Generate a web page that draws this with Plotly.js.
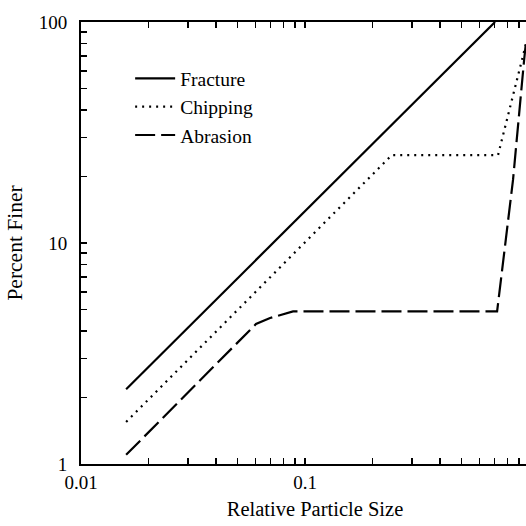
<!DOCTYPE html>
<html>
<head>
<meta charset="utf-8">
<script src="https://cdn.plot.ly/plotly-3.0.1.min.js"></script>
<style>
  html, body { margin: 0; padding: 0; background: #fff; overflow: hidden; }
  #chart { width: 570px; height: 526px; }
</style>
</head>
<body>
<div id="chart"></div>
<script>
// Cumulative particle-size curves for three comminution modes (log-log)
const fractureSize  = [0.0159, 0.705];
const fracturePct   = [2.18, 100];

const chippingSize  = [0.0159, 0.244, 0.727, 0.97];
const chippingPct   = [1.55, 25, 25, 80];

const abrasionSize  = [0.0159, 0.0604, 0.0698, 0.0884, 0.72, 0.848, 0.95, 0.97];
const abrasionPct   = [1.10, 4.30, 4.58, 4.9, 4.9, 19.3, 67, 82];

const seriesNames = ['Fracture', 'Chipping', 'Abrasion'];
const xTickVals = [0.01, 0.1];
const xTickText = ['0.01', '0.1'];
const yTickVals = [1, 10, 100];
const yTickText = ['1', '10', '100'];

// Tick marks at every 1..9 multiple of each decade; only the labelled
// decades carry text, the rest are bare marks.
function logTicks(firstExp, lastExp, labelVals, labelText) {
  const vals = [], text = [];
  for (let e = firstExp; e <= lastExp; e++) {
    for (let m = 1; m <= 9; m++) {
      const v = m * Math.pow(10, e);
      const i = labelVals.findIndex(t => Math.abs(t - v) < v * 1e-9);
      vals.push(v);
      text.push(i >= 0 ? labelText[i] : '');
    }
  }
  const top = Math.pow(10, lastExp + 1);
  const j = labelVals.findIndex(t => Math.abs(t - top) < top * 1e-9);
  if (j >= 0) { vals.push(top); text.push(labelText[j]); }
  return { vals, text };
}

const xTicks = logTicks(-2, 0, xTickVals, xTickText);
const yTicks = logTicks(0, 1, yTickVals, yTickText);

const serif = 'Liberation Serif, Times New Roman, serif';

const traces = [
  { x: fractureSize, y: fracturePct, name: seriesNames[0], mode: 'lines',
    line: { color: '#000', width: 2.2, dash: 'solid' } },
  { x: chippingSize, y: chippingPct, name: seriesNames[1], mode: 'lines',
    line: { color: '#000', width: 2.2, dash: '2px,5px' } },
  { x: abrasionSize, y: abrasionPct, name: seriesNames[2], mode: 'lines',
    line: { color: '#000', width: 2.2, dash: '20px,6px' } }
];

const axisCommon = {
  type: 'log',
  showgrid: false,
  zeroline: false,
  showline: true,
  linecolor: '#000',
  linewidth: 2,
  ticks: 'inside',
  ticklen: 6,
  tickwidth: 1.6,
  tickcolor: '#000',
  tickmode: 'array',
  tickfont: { family: serif, size: 19, color: '#000' }
};

const layout = {
  width: 570,
  height: 526,
  margin: { l: 81, r: 21, t: 22, b: 62 },
  paper_bgcolor: '#fff',
  plot_bgcolor: '#fff',
  font: { family: serif, size: 19, color: '#000' },
  showlegend: true,
  legend: {
    x: 0.105, y: 0.916, xanchor: 'left', yanchor: 'top',
    bgcolor: 'rgba(0,0,0,0)', borderwidth: 0,
    font: { family: serif, size: 19.5, color: '#000' },
    itemwidth: 40, tracegroupgap: 0
  },
  xaxis: Object.assign({}, axisCommon, {
    range: [-2, 0.089],
    tickvals: xTicks.vals, ticktext: xTicks.text,
    mirror: 'ticks',
    ticklabelstandoff: 0,
    title: { text: 'Relative Particle Size', font: { family: serif, size: 20.5 }, standoff: 10 }
  }),
  yaxis: Object.assign({}, axisCommon, {
    range: [0, 2],
    tickvals: yTicks.vals, ticktext: yTicks.text,
    mirror: false,
    ticklabelstandoff: 8,
    title: { text: 'Percent Finer', font: { family: serif, size: 21.5 }, standoff: 10 }
  })
};

Plotly.newPlot('chart', traces, layout, { displayModeBar: false, staticPlot: true });
</script>
</body>
</html>
